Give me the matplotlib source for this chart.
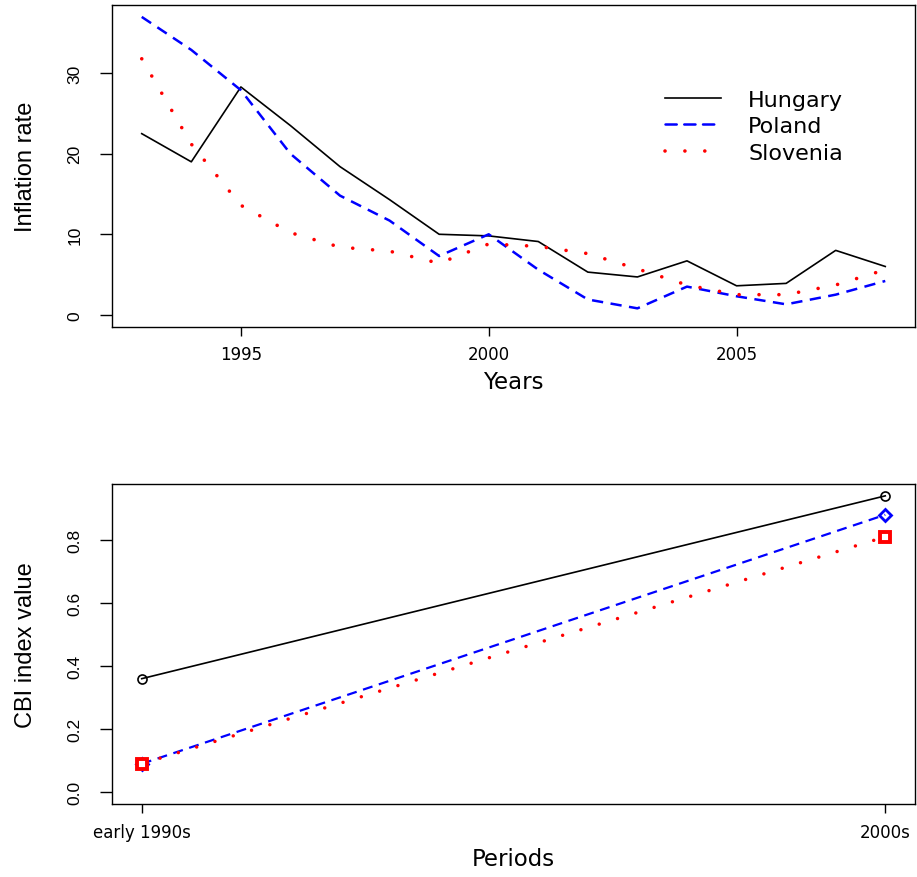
import matplotlib
matplotlib.use("Agg")
import matplotlib.pyplot as plt

# Annual inflation, 1993-2008
years = list(range(1993, 2009))
hungary = [22.5, 19.0, 28.3, 23.5, 18.4, 14.3, 10.0, 9.8, 9.1, 5.3, 4.7, 6.7, 3.6, 3.9, 8.0, 6.0]
poland = [37.0, 32.9, 27.9, 20.0, 14.8, 11.7, 7.3, 10.0, 5.6, 1.9, 0.8, 3.5, 2.3, 1.3, 2.5, 4.2]
slovenia = [31.8, 21.2, 13.6, 10.2, 8.4, 7.9, 6.4, 8.8, 8.5, 7.6, 5.7, 3.7, 2.5, 2.5, 3.7, 5.6]
countries = ["Hungary", "Poland", "Slovenia"]

# Central bank independence index by period
periods = ["early 1990s", "2000s"]
cbi_hungary = [0.36, 0.94]
cbi_poland = [0.09, 0.88]
cbi_slovenia = [0.09, 0.81]

plt.rcParams["font.family"] = ["DejaVu Sans"]
narrow = ["Liberation Sans Narrow", "Liberation Sans"]

W, H = 917, 878
fig = plt.figure(figsize=(W / 100, H / 100), dpi=100)


def box(left, top, right, bottom):
    return [left / W, 1 - bottom / H, (right - left) / W, (bottom - top) / H]


ax1 = fig.add_axes(box(112, 6, 915, 327.7))
ax2 = fig.add_axes(box(112, 485, 915, 805))

dash = (0, (4.5, 3))
dot = (0, (0.01, 5.5))

# top panel: inflation series
ax1.plot(years, hungary, color="black", lw=1.2)
ax1.plot(years, poland, color="blue", lw=1.8, linestyle=dash)
ax1.plot(years, slovenia, color="red", lw=2.6, linestyle=dot, dash_capstyle="round")
ax1.set_xlim(1992.4, 2008.6)
ax1.set_ylim(-1.48, 38.48)
ax1.set_xticks([1995, 2000, 2005])
ax1.set_yticks([0, 10, 20, 30])
ax1.set_xlabel("Years", fontsize=16.5)
ax1.set_ylabel("Inflation rate", fontsize=17, family=narrow)
ax1.xaxis.set_label_coords(0.5, -0.135)
ax1.yaxis.set_label_coords(-0.094, 0.5)

leg = ax1.legend(countries, loc="upper left", bbox_to_anchor=(0.6887, 0.737),
                 frameon=False, fontsize=16, borderpad=0, borderaxespad=0,
                 handlelength=2.5, handletextpad=1.25, labelspacing=0.3)
for line in leg.get_lines():
    line.set_dash_capstyle("round")

# bottom panel: CBI index
xpos = [1, 2]
ax2.plot(xpos, cbi_hungary, color="black", lw=1.2, marker="o", ms=6.5,
         mfc="none", mec="black", mew=1.2)
ax2.plot(xpos, cbi_poland, color="blue", lw=1.6, linestyle=dash, marker="D",
         ms=6, mfc="none", mec="blue", mew=2)
ax2.plot(xpos, cbi_slovenia, color="red", lw=2.5, linestyle=dot,
         dash_capstyle="round", marker="s", ms=6.5, mfc="white", mec="red", mew=2.8)
ax2.set_xlim(0.96, 2.04)
ax2.set_ylim(-0.0376, 0.9776)
ax2.set_xticks(xpos)
ax2.set_xticklabels(periods)
ax2.set_yticks([0.0, 0.2, 0.4, 0.6, 0.8])
ax2.set_yticklabels(["0.0", "0.2", "0.4", "0.6", "0.8"])
ax2.set_xlabel("Periods", fontsize=16.5)
ax2.set_ylabel("CBI index value", fontsize=17, family=narrow)
ax2.xaxis.set_label_coords(0.5, -0.134)
ax2.yaxis.set_label_coords(-0.094, 0.5)

for ax in (ax1, ax2):
    for s in ax.spines.values():
        s.set_linewidth(1.0)
    ax.tick_params(axis="x", length=6.5, width=1.0, pad=7, labelsize=12)
    ax.tick_params(axis="y", length=8.5, width=1.0, pad=13, labelsize=12.5,
                   labelrotation=90)
    for t in ax.get_yticklabels():
        t.set_family(narrow)
        t.set_verticalalignment("center")

fig.savefig("out.png", dpi=100)
